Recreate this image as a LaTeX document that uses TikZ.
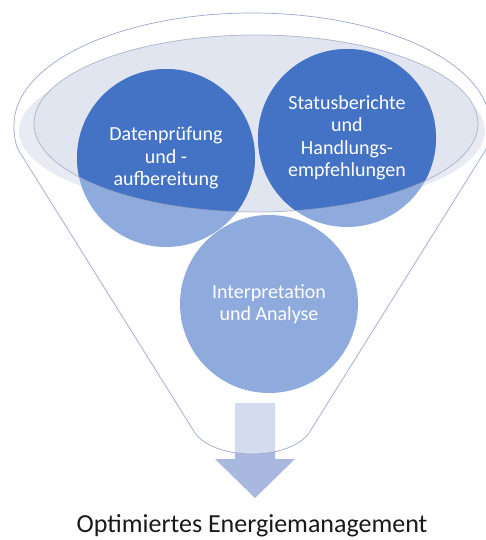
\documentclass[tikz,border=0pt]{standalone}
\usepackage{fontspec}
\setmainfont{Carlito}
\usetikzlibrary{backgrounds}

\definecolor{darkblue}{HTML}{4472C4}
\definecolor{lightblue}{HTML}{8FAADC}
\definecolor{arrowblue}{HTML}{A9B8DF}
\definecolor{funnelline}{HTML}{9AA8CF}
\definecolor{bowlfill}{HTML}{E1E5F0}
\definecolor{bowlshade}{HTML}{E8EBF3}
\definecolor{bowlline}{HTML}{9AA4BE}

\begin{document}
\begin{tikzpicture}
   [
      x=1pt, y=-1pt,
      bubble/.style={circle, inner sep=0pt, minimum size=178pt, align=center,
      text=white, font=\fontsize{20}{22.5}\selectfont},
      funnel/.style={fill=white, fill opacity=0.5, draw=funnelline, line width=0.7pt},
      bowl/.style={fill=bowlfill},
      target/.style={anchor=base, text=black!90, font=\fontsize{26}{30}\selectfont}
   ]
   \useasboundingbox (0,0) rectangle (485,540);

   \node[bubble] (pruef) at (166,158) {Datenprüfung\\und -\\aufbereitung};
   \node[bubble] (status) at (347,138) {Statusberichte\\und\\Handlungs-\\empfehlungen};
   \node[bubble] (analyse) at (269,304) {Interpretation\\und Analyse};

   \begin{scope}[on background layer]
      \fill[arrowblue] (235,403) -- (275,403) -- (275,459) -- (295,459) -- (255,498)
         -- (215,459) -- (235,459) -- cycle;

      \filldraw[funnel] (490,125) arc[start angle=0, end angle=-180, x radius=238, y radius=112]
         .. controls (14,138) and (16,146) .. (19,151) -- (195,433)
         .. controls (215,461) and (289,461) .. (309,433) -- (485,151)
         .. controls (488,146) and (490,138) .. (490,125) -- cycle;

      \fill[bowlshade] (252,131) ellipse [x radius=233, y radius=81];
      \fill[bowl] (256,123.5) ellipse [x radius=222, y radius=88.5];

      \foreach \b in {pruef,status,analyse}
         \fill[lightblue] (\b.center) circle (89);
      \begin{scope}
         \clip (256,123.5) ellipse [x radius=222, y radius=88.5];
         \foreach \b in {pruef,status,analyse}
            \fill[darkblue] (\b.center) circle (89);
      \end{scope}
      \draw[bowlline, line width=0.8pt, opacity=0.7] (256,123.5) ellipse [x radius=222, y radius=88.5];
   \end{scope}

   \node[target] (ziel) at (252,532) {Optimiertes Energiemanagement};
\end{tikzpicture}
\end{document}
